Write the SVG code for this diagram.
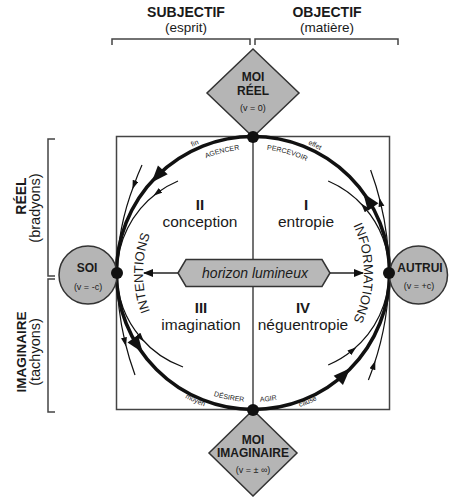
<svg xmlns="http://www.w3.org/2000/svg" width="450" height="497" viewBox="0 0 450 497">
<style>
text{font-family:"Liberation Sans",Arial,sans-serif;fill:#1a1a1a}
.h{font-size:14px;font-weight:bold;text-anchor:middle}
.p{font-size:13.5px;text-anchor:middle}
.ps{font-size:14.5px;text-anchor:middle}
.nl{font-size:12px;font-weight:bold;text-anchor:middle}
.ns{font-size:9px;text-anchor:middle}
.q{font-size:15.5px;text-anchor:middle}
.qn{font-size:15px;font-weight:bold;text-anchor:middle}
.sm{font-size:7px;fill:#222}
.arc{font-size:13px}
.shape{fill:#b5b5b5;stroke:#333;stroke-width:1.5}
.br{fill:none;stroke:#444;stroke-width:1.5}
.thin{fill:none;stroke:#111;stroke-width:1.2;marker-mid:url(#ta)}
.dot{fill:#111}
</style>
<defs>
<marker id="ta" markerUnits="userSpaceOnUse" markerWidth="9" markerHeight="7" refX="4.5" refY="3" orient="auto"><path d="M0,0 L9,3 L0,6 z" fill="#111"/></marker>
<marker id="ha" markerUnits="userSpaceOnUse" markerWidth="10" markerHeight="8" refX="9" refY="4" orient="auto"><path d="M0,0 L10,4 L0,8 z" fill="#111"/></marker>
<path id="ti" d="M129,273 A124,124 0 0 1 377,273"/>
<path id="to" d="M113,273 A140,140 0 0 1 393,273"/>
<path id="bi" d="M124,273 A129,129 0 0 0 382,273"/>
<path id="bo" d="M111,273 A142,142 0 0 0 395,273"/>
<path id="li" d="M253,383 A110,110 0 0 1 253,163"/>
<path id="ri" d="M253,162 A111,111 0 0 1 253,384"/>
<polygon id="bigA" points="0,0 -17,-6.5 -17,6.5"/>
</defs>

<g id="headers">
<text class="h" x="186" y="16.5">SUBJECTIF</text>
<text class="p" x="186" y="32">(esprit)</text>
<text class="h" x="327" y="16.5">OBJECTIF</text>
<text class="p" x="327" y="32">(matière)</text>
<path class="br" d="M112,45 V39 H250 V45 M255,45 V39 H398 V45"/>
<text class="h" transform="translate(26,196) rotate(-90)" x="0" y="0">RÉEL</text>
<text class="ps" transform="translate(40,208) rotate(-90)" x="0" y="0">(bradyons)</text>
<text class="h" transform="translate(26,352) rotate(-90)" x="0" y="0" style="font-size:13.5px">IMAGINAIRE</text>
<text class="ps" transform="translate(40,352) rotate(-90)" x="0" y="0">(tachyons)</text>
<path class="br" d="M55,139 H48 V276 H55 M55,279 H48 V412 H55"/>
</g>

<g id="frame">
<rect x="116.5" y="136.5" width="273" height="273" fill="none" stroke="#444" stroke-width="1.5"/>
<line x1="253" y1="137" x2="253" y2="410" stroke="#444" stroke-width="1.5"/>
</g>

<g id="connectors">
<circle cx="253" cy="273" r="136.5" fill="none" stroke="#111" stroke-width="3.5"/>
<use href="#bigA" transform="translate(151.5,182.5) rotate(131.7)" fill="#111"/>
<use href="#bigA" transform="translate(142.7,352.6) rotate(54.2)" fill="#111"/>
<use href="#bigA" transform="translate(350.2,368.2) rotate(-45.6)" fill="#111"/>
<use href="#bigA" transform="translate(363.2,193.2) rotate(-125.9)" fill="#111"/>
<path class="thin" d="M142,165 A250,250 0 0 0 134,185 A250,250 0 0 0 117,273"/>
<path class="thin" d="M178,181 A100,100 0 0 0 157,193 A100,100 0 0 0 117,273"/>
<path class="thin" d="M117,273 A300,300 0 0 0 125,342 A300,300 0 0 0 135,375"/>
<path class="thin" d="M117,273 A100,100 0 0 0 141,338 A100,100 0 0 0 183,367"/>
<path class="thin" d="M389,273 A298,298 0 0 0 380.4,202 A298,298 0 0 0 370.6,170"/>
<path class="thin" d="M389,273 A100,100 0 0 0 364.1,207 A100,100 0 0 0 328.2,181"/>
<path class="thin" d="M368.4,380 A288,288 0 0 0 373.9,365 A288,288 0 0 0 389,273"/>
<path class="thin" d="M328.2,365 A100,100 0 0 0 352.8,350 A100,100 0 0 0 389,273"/>
<line x1="178" y1="273" x2="144" y2="273" stroke="#222" stroke-width="1.3" marker-end="url(#ha)"/>
<line x1="330" y1="273" x2="363" y2="273" stroke="#222" stroke-width="1.3" marker-end="url(#ha)"/>
<text class="sm" text-anchor="middle"><textPath href="#to" startOffset="160.8">fin</textPath></text>
<text class="sm" text-anchor="middle"><textPath href="#ti" startOffset="163.8">AGENCER</textPath></text>
<text class="sm" text-anchor="middle"><textPath href="#ti" startOffset="229.2">PERCEVOIR</textPath></text>
<text class="sm" text-anchor="middle"><textPath href="#to" startOffset="283">effet</textPath></text>
<text class="sm" text-anchor="middle"><textPath href="#bo" startOffset="162.6">moyen</textPath></text>
<text class="sm" text-anchor="middle"><textPath href="#bi" startOffset="178.1">DÉSIRER</textPath></text>
<text class="sm" text-anchor="middle"><textPath href="#bi" startOffset="218.2">AGIR</textPath></text>
<text class="sm" text-anchor="middle"><textPath href="#bo" startOffset="280.1">cause</textPath></text>
<text class="arc" text-anchor="middle"><textPath href="#li" startOffset="50%">INTENTIONS</textPath></text>
<text class="arc" text-anchor="middle"><textPath href="#ri" startOffset="50%">INFORMATIONS</textPath></text>
</g>

<g id="quadrants">
<text class="qn" x="200" y="210">II</text>
<text class="q" x="200" y="227">conception</text>
<text class="qn" x="306" y="210">I</text>
<text class="q" x="306" y="227">entropie</text>
<text class="qn" x="201" y="313">III</text>
<text class="q" x="201" y="330">imagination</text>
<text class="qn" x="303" y="313">IV</text>
<text class="q" x="303" y="330">néguentropie</text>
</g>

<g id="horizon">
<polygon class="shape" points="178,273 186,259.5 322,259.5 330,273 322,286.5 186,286.5" style="fill:#b8b8b8"/>
<text x="255" y="278" style="font-size:14px;font-style:italic;text-anchor:middle">horizon lumineux</text>
</g>

<g id="moi-reel">
<polygon class="shape" points="253,49 299,93 253,137 207,93"/>
<text class="nl" x="253" y="81">MOI</text>
<text class="nl" x="253" y="95">RÉEL</text>
<text class="ns" x="253" y="111">(v = 0)</text>
</g>

<g id="moi-imaginaire">
<polygon class="shape" points="253,410 297,453 253,496 209,453"/>
<text class="nl" x="253" y="444">MOI</text>
<text class="nl" x="253" y="457">IMAGINAIRE</text>
<text class="ns" x="253" y="473">(v = ± ∞)</text>
</g>

<g id="soi">
<circle class="shape" cx="88" cy="275" r="29"/>
<text class="nl" x="87" y="272">SOI</text>
<text class="ns" x="88" y="290">(v = -c)</text>
</g>

<g id="autrui">
<circle class="shape" cx="418.5" cy="275" r="29"/>
<text class="nl" x="420" y="272">AUTRUI</text>
<text class="ns" x="419" y="289">(v = +c)</text>
</g>

<g id="dots">
<circle class="dot" cx="253" cy="137" r="6"/>
<circle class="dot" cx="117" cy="273" r="6"/>
<circle class="dot" cx="389" cy="273" r="6"/>
<circle class="dot" cx="253" cy="410" r="6"/>
</g>
</svg>
